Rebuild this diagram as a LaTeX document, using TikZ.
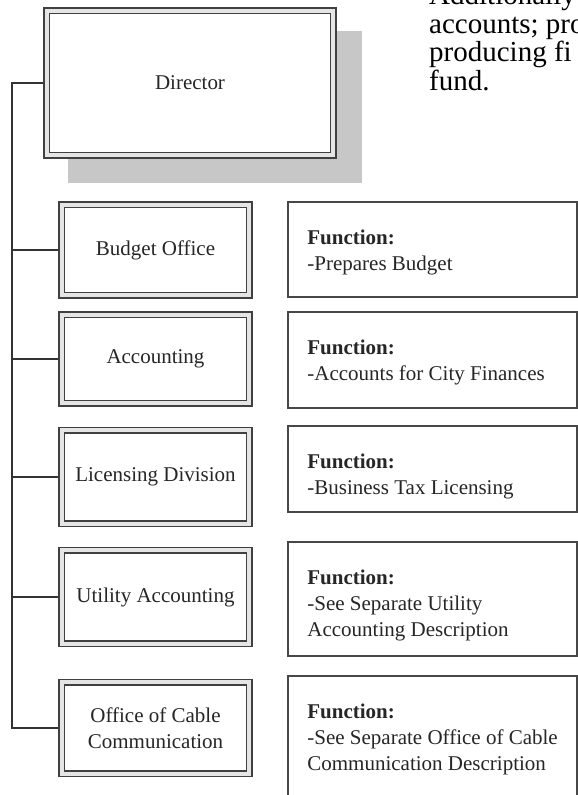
\documentclass[tikz,border=0pt]{standalone}
\usepackage{fontspec}
\setmainfont{Liberation Serif}
\usetikzlibrary{backgrounds}
\begin{document}
\begin{tikzpicture}[x=1pt,y=-1pt,
  dbox/.style={draw=black!75, line width=1.6pt, double=black!10, double distance=4pt,
    fill=white, outer sep=3.6pt, inner sep=0pt, align=center,
    font=\fontsize{21}{26.5}\selectfont, text=black!85},
  fnbox/.style={draw=black!72, line width=1.6pt, fill=white, inner sep=0pt,
    minimum width=289pt},
  ftext/.style={anchor=north west, inner sep=0pt, align=left,
    font=\fontsize{21}{26}\selectfont, text=black!85},
  para/.style={anchor=north west, inner sep=0pt, align=left,
    font=\fontsize{29}{28.5}\selectfont, text=black},
  link/.style={draw=black!80, line width=1.8pt},
  shadowc/.style={fill=black!22}]
\useasboundingbox (0,0) rectangle (578,795);
\clip (0,0) rectangle (578,795);

% paragraph fragment at top right
\node[para] (note) at (429,-15.8) {Additionally\\accounts; pro\\producing fi\\fund.};

% director
\node[dbox, minimum width=286.4pt, minimum height=144.4pt] (dir) at (190,83) {Director};
\begin{scope}[on background layer]
  \fill[shadowc] ([shift={(25,24)}]dir.north west) rectangle ([shift={(25,24)}]dir.south east);
\end{scope}

% left boxes
\node[dbox, minimum width=187.4pt, minimum height=90.4pt] (bud) at (155.5,250) {Budget Office};
\node[dbox, minimum width=187.4pt, minimum height=88.4pt] (acc) at (155.5,359) {Accounting};
\node[dbox, minimum width=187.4pt, minimum height=93.4pt] (lic) at (155.5,477) {Licensing Division};
\node[dbox, minimum width=187.4pt, minimum height=93.4pt] (uti) at (155.5,597) {Utility Accounting};
\node[dbox, minimum width=187.4pt, minimum height=91.4pt] (off) at (155.5,728) {Office of Cable\\Communication};

% spine and connectors
\coordinate (spine) at (12,0);
\draw[link] (dir.west) -| (spine |- off.west) -- (off.west);
\draw[link] (bud.west) -- (bud.west -| spine);
\draw[link] (acc.west) -- (acc.west -| spine);
\draw[link] (lic.west) -- (lic.west -| spine);
\draw[link] (uti.west) -- (uti.west -| spine);

% function boxes
\node[fnbox, minimum height=95pt] (fbud) at (432.5,249.5) {};
\node[fnbox, minimum height=96pt] (facc) at (432.5,360) {};
\node[fnbox, minimum height=86pt] (flic) at (432.5,469) {};
\node[fnbox, minimum height=114pt] (futi) at (432.5,599) {};
\node[fnbox, minimum height=134pt] (foff) at (432.5,743) {};

\node[ftext] (tbud) at ([shift={(20,29)}]fbud.north west) {\textbf{Function:}\\-Prepares Budget};
\node[ftext] (tacc) at ([shift={(20,29)}]facc.north west) {\textbf{Function:}\\-Accounts for City Finances};
\node[ftext] (tlic) at ([shift={(20,29)}]flic.north west) {\textbf{Function:}\\-Business Tax Licensing};
\node[ftext] (tuti) at ([shift={(20,29)}]futi.north west) {\textbf{Function:}\\-See Separate Utility\\Accounting Description};
\node[ftext] (toff) at ([shift={(20,29)}]foff.north west) {\textbf{Function:}\\-See Separate Office of Cable\\Communication Description};
\end{tikzpicture}
\end{document}
